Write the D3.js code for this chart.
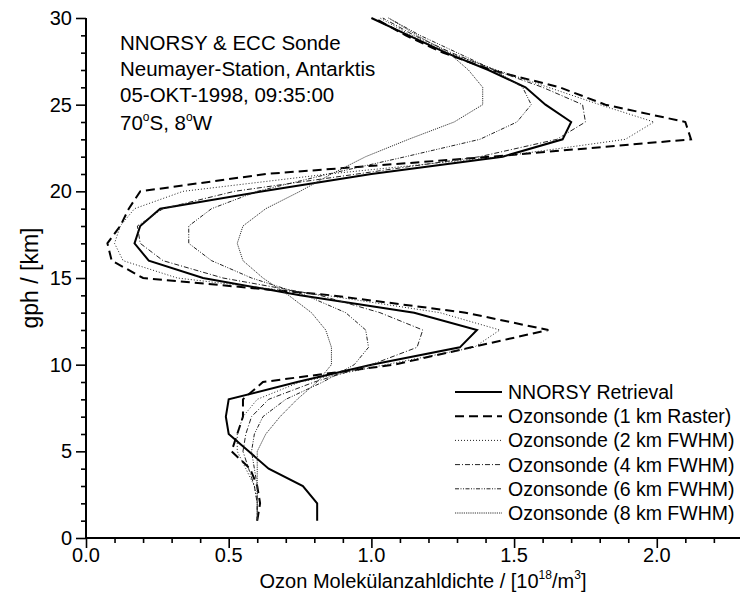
<!DOCTYPE html>
<html>
<head>
<meta charset="utf-8">
<script src="https://cdn.jsdelivr.net/npm/d3@7"></script>
<style>
  body { margin: 0; background: #fff; }
  svg { display: block; font-family: "Liberation Sans", Arial, sans-serif; }
</style>
</head>
<body>
<script>
const heights = [1, 2, 3, 4, 5, 6, 7, 8, 9, 10, 11, 12, 13, 14, 15, 16, 17, 18, 19, 20, 21, 22, 23, 24, 25, 26, 27, 28, 29, 30];

const retrieval = [0.81, 0.81, 0.76, 0.64, 0.57, 0.50, 0.49, 0.50, 0.74, 1.00, 1.31, 1.37, 1.15, 0.75, 0.41, 0.22, 0.17, 0.19, 0.26, 0.62, 1.00, 1.46, 1.67, 1.70, 1.61, 1.54, 1.41, 1.26, 1.13, 1.00];
const sonde1km = [0.60, 0.61, 0.60, 0.575, 0.51, 0.53, 0.55, 0.55, 0.62, 1.08, 1.35, 1.62, 1.33, 0.86, 0.20, 0.09, 0.075, 0.12, 0.15, 0.19, 0.63, 1.42, 2.12, 2.10, 1.82, 1.66, 1.42, 1.25, 1.12, 1.01];
const sonde2km = [0.60, 0.60, 0.59, 0.56, 0.53, 0.53, 0.55, 0.60, 0.75, 1.05, 1.36, 1.45, 1.24, 0.84, 0.32, 0.13, 0.10, 0.12, 0.17, 0.34, 0.85, 1.45, 1.89, 1.99, 1.80, 1.62, 1.44, 1.27, 1.14, 1.03];
const sonde4km = [0.60, 0.60, 0.59, 0.57, 0.55, 0.56, 0.58, 0.64, 0.80, 1.00, 1.16, 1.18, 1.03, 0.82, 0.48, 0.27, 0.19, 0.18, 0.27, 0.52, 0.95, 1.38, 1.65, 1.75, 1.74, 1.60, 1.43, 1.28, 1.15, 1.04];
const sonde6km = [0.60, 0.60, 0.60, 0.59, 0.58, 0.59, 0.62, 0.70, 0.83, 0.94, 0.99, 0.98, 0.91, 0.77, 0.58, 0.44, 0.36, 0.36, 0.44, 0.60, 0.85, 1.12, 1.38, 1.51, 1.56, 1.53, 1.43, 1.30, 1.17, 1.06];
const sonde8km = [0.60, 0.60, 0.60, 0.60, 0.60, 0.63, 0.68, 0.74, 0.81, 0.86, 0.86, 0.84, 0.79, 0.71, 0.62, 0.55, 0.53, 0.55, 0.63, 0.75, 0.86, 0.98, 1.13, 1.29, 1.39, 1.39, 1.34, 1.27, 1.16, 1.06];

const xMajorTicks = [0, 0.5, 1.0, 1.5, 2.0];
const yMajorTicks = [0, 5, 10, 15, 20, 25, 30];

const legendLabels = [
  "NNORSY Retrieval",
  "Ozonsonde (1 km Raster)",
  "Ozonsonde (2 km FWHM)",
  "Ozonsonde (4 km FWHM)",
  "Ozonsonde (6 km FWHM)",
  "Ozonsonde (8 km FWHM)"
];

const infoLines = ["NNORSY & ECC Sonde", "Neumayer-Station, Antarktis", "05-OKT-1998, 09:35:00"];

const width = 740;
const height = 598;

// line looks, in legend order
const styles = [
  { width: 2, dash: null, color: "#000" },
  { width: 2, dash: "9,5", color: "#000" },
  { width: 1, dash: "1,2", color: "#222" },
  { width: 1, dash: "5,2,1,2", color: "#222" },
  { width: 1, dash: "4,1.5,1,1.5,1,1.5", color: "#222" },
  { width: 1, dash: "1.2,1", color: "#333" }
];

const series = [retrieval, sonde1km, sonde2km, sonde4km, sonde6km, sonde8km];

const x = d3.scaleLinear().domain([0, 2.3]).range([86, 742.4]);
const y = d3.scaleLinear().domain([0, 30]).range([538, 18]);

const svg = d3.select("body").append("svg")
  .attr("width", width)
  .attr("height", height);

const line = d3.line()
  .x(d => x(d[0]))
  .y(d => y(d[1]));

series.forEach((vals, i) => {
  svg.append("path")
    .datum(vals.map((v, j) => [v, heights[j]]))
    .attr("d", line)
    .attr("fill", "none")
    .attr("stroke", styles[i].color)
    .attr("stroke-width", styles[i].width)
    .attr("stroke-dasharray", styles[i].dash)
    .attr("stroke-linejoin", "miter");
});

// axes
const xAxis = svg.append("g").attr("transform", `translate(0,${y(0)})`);
xAxis.call(d3.axisBottom(x).tickValues(d3.range(0, 23).map(d => d / 10)).tickSize(5).tickFormat(""));
xAxis.call(g => g.selectAll(".tick")
  .filter(d => xMajorTicks.some(t => Math.abs(t - d) < 1e-6))
  .select("line").attr("y2", 10));
xAxis.selectAll(".tick line").attr("stroke-width", 1.6);
xAxis.select(".domain").attr("stroke-width", 2).attr("d", `M${x(0)},0H${width + 5}`);

const yAxis = svg.append("g").attr("transform", `translate(${x(0)},0)`);
yAxis.call(d3.axisLeft(y).tickValues(d3.range(0, 31)).tickSize(5).tickFormat(""));
yAxis.call(g => g.selectAll(".tick")
  .filter(d => yMajorTicks.includes(d))
  .select("line").attr("x2", -10));
yAxis.selectAll(".tick line").attr("stroke-width", 1.6);
yAxis.select(".domain").attr("stroke-width", 2).attr("d", `M0,${y(0)}V${y(30)}`);

svg.append("g").selectAll("text")
  .data(xMajorTicks)
  .join("text")
  .attr("x", d => x(d))
  .attr("y", 562)
  .attr("text-anchor", "middle")
  .attr("font-size", 20)
  .text(d => d.toFixed(1));

svg.append("g").selectAll("text")
  .data(yMajorTicks)
  .join("text")
  .attr("x", 72)
  .attr("y", d => y(d) + 7)
  .attr("text-anchor", "end")
  .attr("font-size", 20)
  .text(d => d);

// axis titles
svg.append("text")
  .attr("transform", "translate(38,278) rotate(-90)")
  .attr("text-anchor", "middle")
  .attr("font-size", 23)
  .text("gph / [km]");

const xt = svg.append("text")
  .attr("x", 423)
  .attr("y", 588)
  .attr("text-anchor", "middle")
  .attr("font-size", 20);
xt.append("tspan").text("Ozon Molekülanzahldichte / [10");
xt.append("tspan").attr("font-size", 12).attr("dy", -9).text("18");
xt.append("tspan").attr("dy", 9).text("/m");
xt.append("tspan").attr("font-size", 12).attr("dy", -9).text("3");
xt.append("tspan").attr("dy", 9).text("]");

// station info
svg.append("g").selectAll("text")
  .data(infoLines)
  .join("text")
  .attr("x", 120)
  .attr("y", (d, i) => 50 + i * 26)
  .attr("font-size", 20.5)
  .text(d => d);

const pos = svg.append("text").attr("x", 120).attr("y", 130).attr("font-size", 20.5);
pos.append("tspan").text("70");
pos.append("tspan").attr("font-size", 12).attr("dy", -9).text("o");
pos.append("tspan").attr("dy", 9).text("S, 8");
pos.append("tspan").attr("font-size", 12).attr("dy", -9).text("o");
pos.append("tspan").attr("dy", 9).text("W");

// legend
const legend = svg.append("g").selectAll("g")
  .data(legendLabels)
  .join("g")
  .attr("transform", (d, i) => `translate(455,${392 + i * 24.2})`);

legend.append("line")
  .attr("x1", 0).attr("x2", 47)
  .attr("stroke", (d, i) => styles[i].color)
  .attr("stroke-width", (d, i) => styles[i].width)
  .attr("stroke-dasharray", (d, i) => styles[i].dash);

legend.append("text")
  .attr("x", 53)
  .attr("y", 7)
  .attr("font-size", 19.5)
  .text(d => d);
</script>
</body>
</html>
